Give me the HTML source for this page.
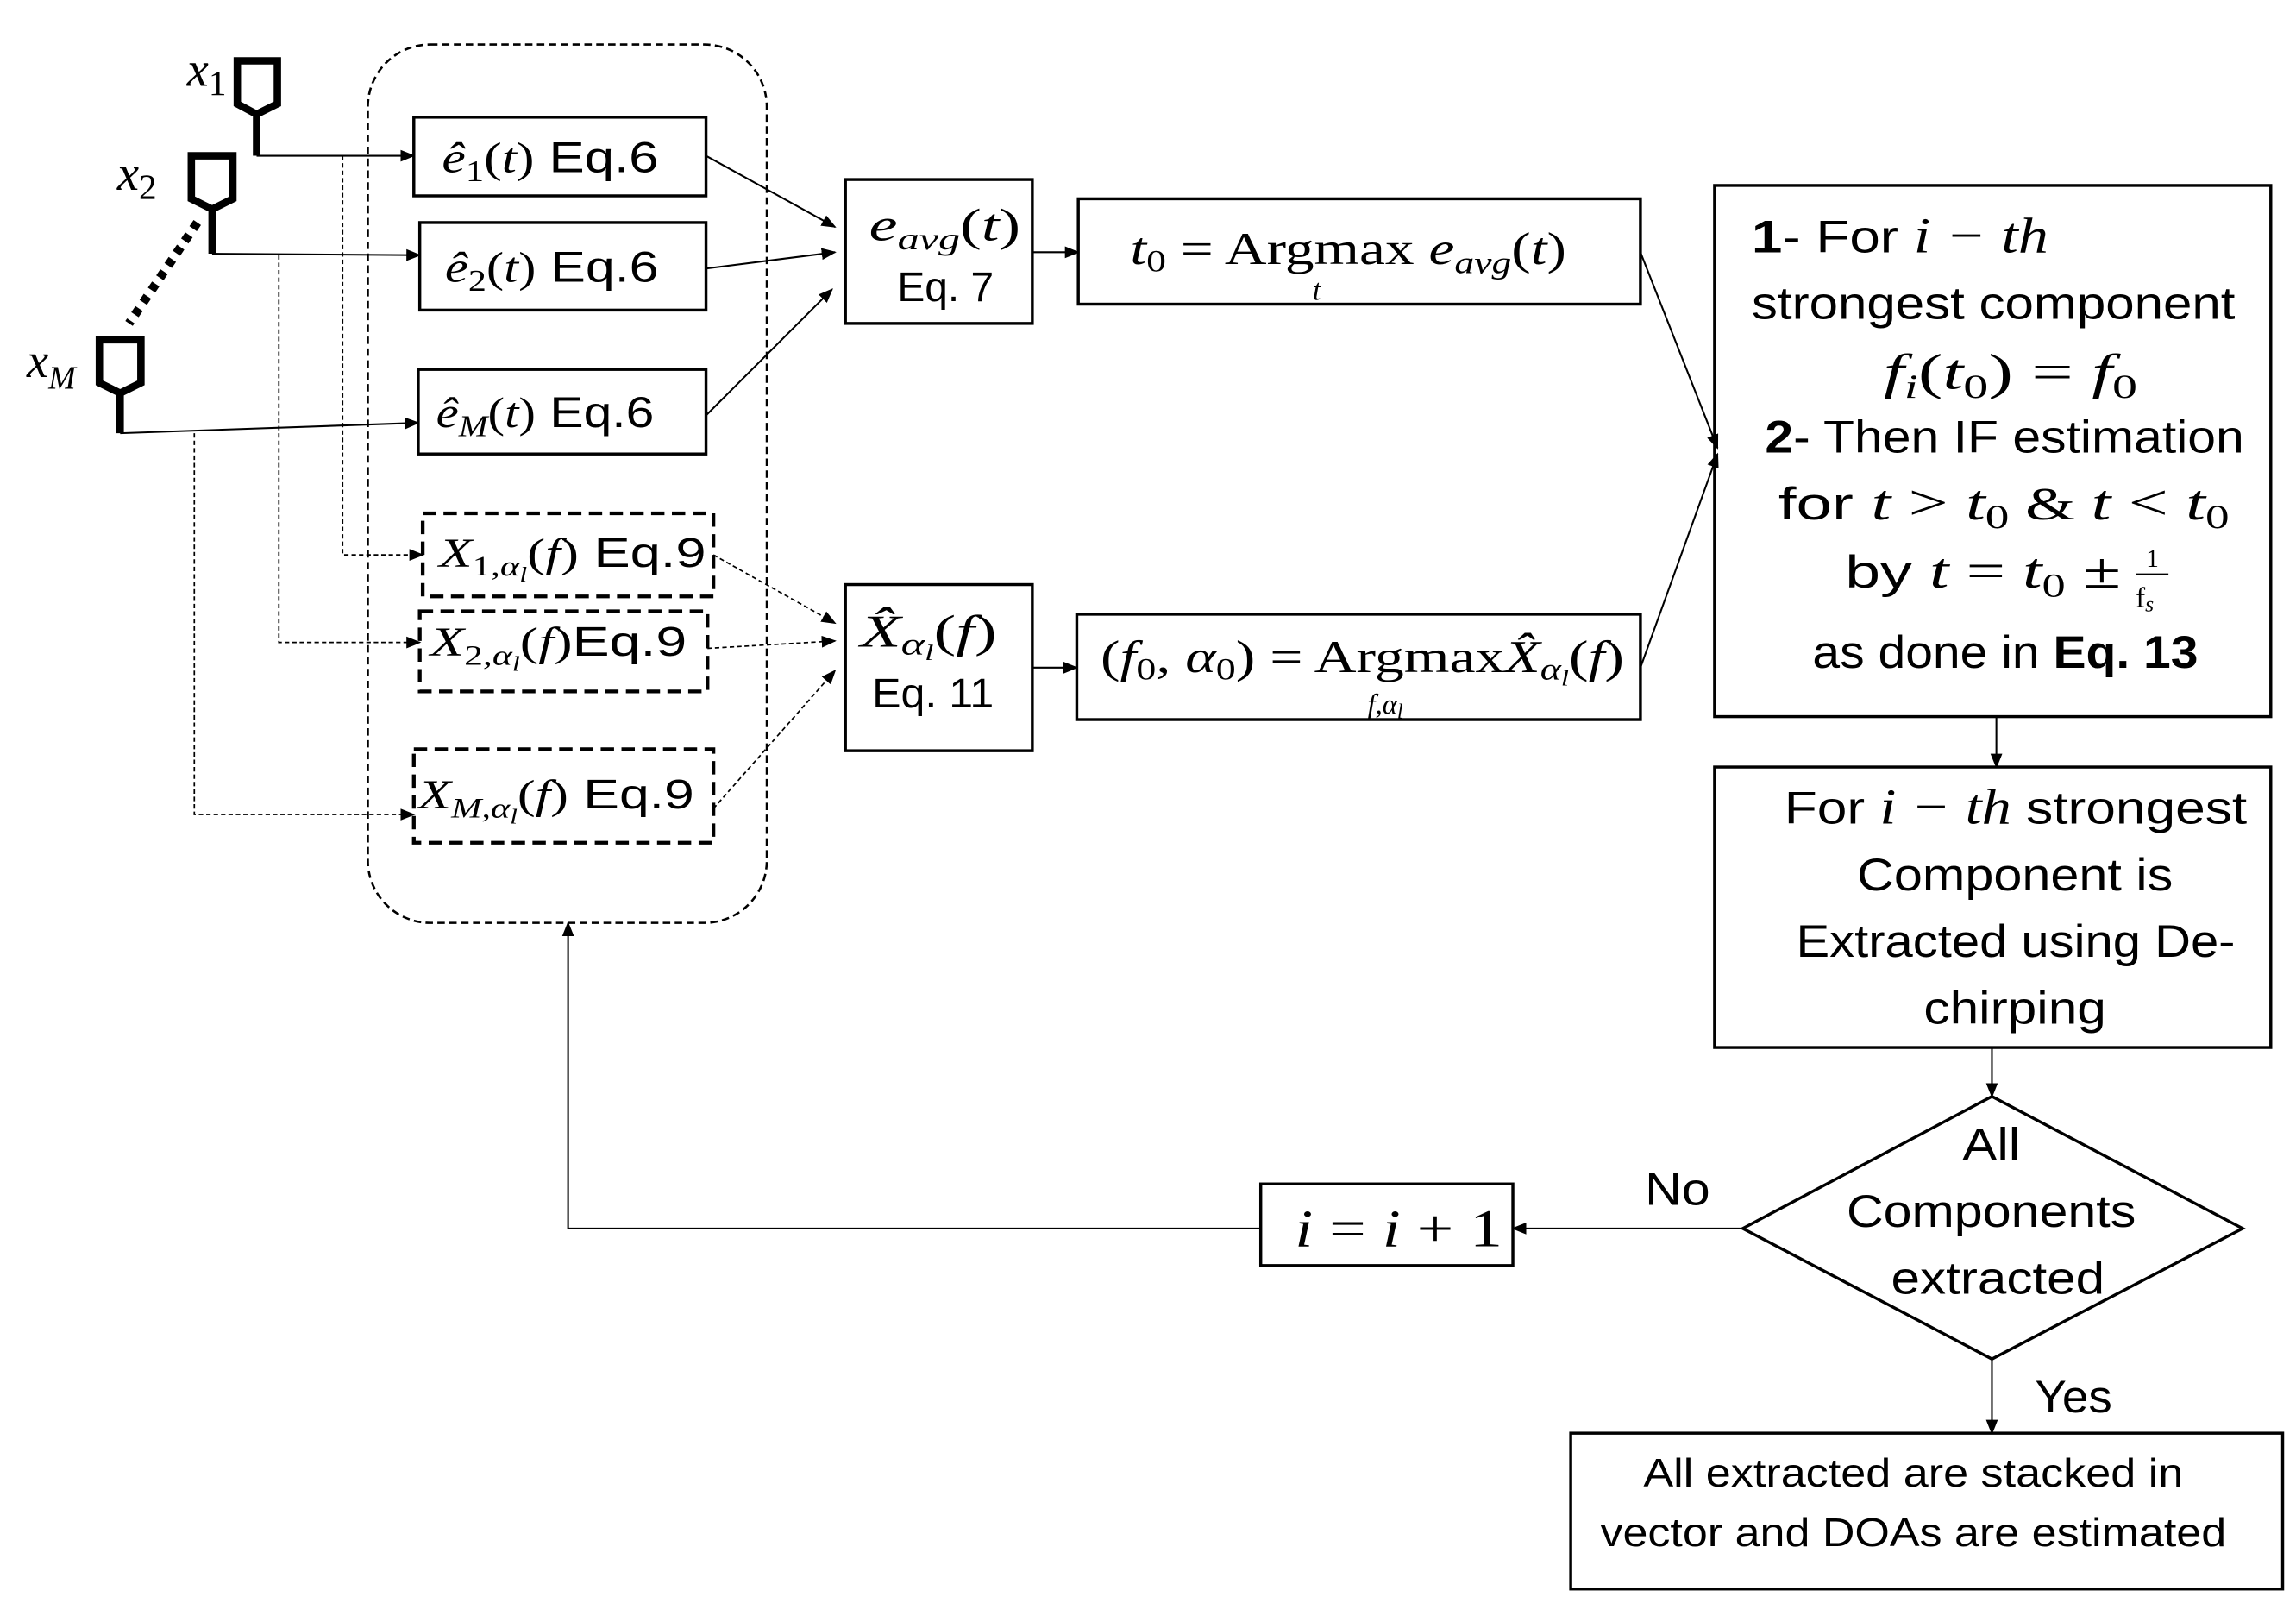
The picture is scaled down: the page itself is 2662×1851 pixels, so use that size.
<!DOCTYPE html>
<html><head><meta charset="utf-8"><style>
html,body{margin:0;padding:0;background:#fff;}
svg{display:block;}
text{font-family:"Liberation Sans",sans-serif;fill:#000;}
.m{font-family:"Liberation Serif",serif;font-style:italic;}
.r{font-family:"Liberation Serif",serif;}
</style></head><body>
<svg width="2662" height="1851" viewBox="0 0 1548 1076.4" preserveAspectRatio="none" xmlns="http://www.w3.org/2000/svg">
<defs>
<marker id="a" markerWidth="10" markerHeight="10" refX="9" refY="5" orient="auto" markerUnits="userSpaceOnUse"><path d="M0,1 L10,5 L0,9 z" fill="#000"/></marker>
</defs>
<g fill="none" stroke="#000">
<rect x="248" y="30" width="269" height="592" rx="42" stroke-width="1.5" stroke-dasharray="5,3"/>
<g stroke-width="2">
<rect x="279" y="79" width="197" height="53"/>
<rect x="283" y="150" width="193" height="59"/>
<rect x="282" y="249" width="194" height="57"/>
<rect x="570" y="121" width="126" height="97"/>
<rect x="570" y="394" width="126" height="112"/>
<rect x="727" y="134" width="379" height="71"/>
<rect x="726" y="414" width="380" height="71"/>
<rect x="1156" y="125" width="375" height="358"/>
<rect x="1156" y="517" width="375" height="189"/>
<rect x="850" y="798" width="170" height="55"/>
<rect x="1059" y="966" width="480" height="105"/>
<path d="M1175,828 L1343,739 L1512,828 L1343,916 Z"/>
</g>
<g stroke-width="2.5" stroke-dasharray="9,5">
<rect x="285" y="346" width="196" height="56"/>
<rect x="283" y="412" width="194" height="54"/>
<rect x="279" y="505" width="202" height="63"/>
</g>
<g stroke-width="5">
<path d="M160,41 L187,41 L187,70 L173,77 L160,70 Z"/>
<path d="M173,77 L173,105"/>
<path d="M129,105 L157,105 L157,134 L143,141 L129,134 Z"/>
<path d="M143,141 L143,171"/>
<path d="M67,229 L95,229 L95,258 L81,265 L67,258 Z"/>
<path d="M81,265 L81,292"/>
<path d="M133,150 L87,218" stroke-width="6" stroke-dasharray="5,5"/>
</g>
<g stroke-width="1.2" marker-end="url(#a)">
<path d="M173,105 L279,105"/>
<path d="M143,171 L283,172"/>
<path d="M81,292 L282,285"/>
<path d="M476,105 L563,153"/>
<path d="M476,181 L563,170"/>
<path d="M476,280 L561,195"/>
<path d="M696,170 L727,170"/>
<path d="M696,450 L726,450"/>
<path d="M1106,170 L1158,302"/>
<path d="M1106,450 L1158,306"/>
<path d="M1346,483 L1346,517"/>
<path d="M1343,706 L1343,739"/>
<path d="M1343,916 L1343,966"/>
<path d="M1175,828 L1020,828"/>
<path d="M850,828 L383,828 L383,622"/>
</g>
<g stroke-width="1" stroke-dasharray="3,2" marker-end="url(#a)">
<path d="M231,105 L231,374 L285,374"/>
<path d="M188,172 L188,433 L283,433"/>
<path d="M131,292 L131,549 L279,549"/>
<path d="M481,374 L563,420"/>
<path d="M477,437 L563,432"/>
<path d="M481,545 L563,452"/>
</g>
</g>
<text x="126" y="58" class="m" font-size="33">x<tspan font-size="24" dy="6" font-style="normal">1</tspan></text>
<text x="79" y="128" class="m" font-size="33">x<tspan font-size="24" dy="6" font-style="normal">2</tspan></text>
<text x="18" y="254" class="m" font-size="33">x<tspan font-size="22" dy="8">M</tspan></text>

<text x="298" y="116" font-size="29" textLength="146" lengthAdjust="spacingAndGlyphs"><tspan class="m">ê</tspan><tspan class="r" font-size="20" dy="6">1</tspan><tspan class="r" dy="-6">(</tspan><tspan class="m">t</tspan><tspan class="r">)</tspan>  Eq.6</text>
<text x="300" y="190" font-size="29" textLength="144" lengthAdjust="spacingAndGlyphs"><tspan class="m">ê</tspan><tspan class="r" font-size="20" dy="6">2</tspan><tspan class="r" dy="-6">(</tspan><tspan class="m">t</tspan><tspan class="r">)</tspan>  Eq.6</text>
<text x="294" y="288" font-size="29" textLength="147" lengthAdjust="spacingAndGlyphs"><tspan class="m">ê</tspan><tspan class="m" font-size="20" dy="6">M</tspan><tspan class="r" dy="-6">(</tspan><tspan class="m">t</tspan><tspan class="r">)</tspan> Eq.6</text>
<text x="296" y="382" font-size="28" textLength="180" lengthAdjust="spacingAndGlyphs"><tspan class="m">X</tspan><tspan class="r" font-size="19" dy="6">1,</tspan><tspan class="m" font-size="19">α</tspan><tspan class="m" font-size="14" dy="4">l</tspan><tspan class="r" dy="-10">(</tspan><tspan class="m">f</tspan><tspan class="r">)</tspan> Eq.9</text>
<text x="290" y="442" font-size="28" textLength="173" lengthAdjust="spacingAndGlyphs"><tspan class="m">X</tspan><tspan class="r" font-size="19" dy="6">2,</tspan><tspan class="m" font-size="19">α</tspan><tspan class="m" font-size="14" dy="4">l</tspan><tspan class="r" dy="-10">(</tspan><tspan class="m">f</tspan><tspan class="r">)</tspan>Eq.9</text>
<text x="282" y="545" font-size="28" textLength="186" lengthAdjust="spacingAndGlyphs"><tspan class="m">X</tspan><tspan class="m" font-size="19" dy="6">M,α</tspan><tspan class="m" font-size="14" dy="4">l</tspan><tspan class="r" dy="-10">(</tspan><tspan class="m">f</tspan><tspan class="r">)</tspan> Eq.9</text>

<text x="586" y="162" font-size="31" textLength="102" lengthAdjust="spacingAndGlyphs"><tspan class="m">e</tspan><tspan class="m" font-size="21" dy="6">avg</tspan><tspan class="r" dy="-6">(</tspan><tspan class="m">t</tspan><tspan class="r">)</tspan></text>
<text x="605" y="203" font-size="28" textLength="65" lengthAdjust="spacingAndGlyphs">Eq. 7</text>
<text x="580" y="436" font-size="31" textLength="92" lengthAdjust="spacingAndGlyphs"><tspan class="m">X̂</tspan><tspan class="m" font-size="21" dy="5">α</tspan><tspan class="m" font-size="15" dy="4">l</tspan><tspan class="r" dy="-9">(</tspan><tspan class="m">f</tspan><tspan class="r">)</tspan></text>
<text x="588" y="477" font-size="28" textLength="82" lengthAdjust="spacingAndGlyphs">Eq. 11</text>
<text x="762" y="178" font-size="31" textLength="294" lengthAdjust="spacingAndGlyphs"><tspan class="m">t</tspan><tspan class="r" font-size="21" dy="5">0</tspan><tspan class="r" dy="-5"> = Argmax </tspan><tspan class="m">e</tspan><tspan class="m" font-size="21" dy="6">avg</tspan><tspan class="r" dy="-6">(</tspan><tspan class="m">t</tspan><tspan class="r">)</tspan></text>
<text x="885" y="202" class="m" font-size="20">t</text>
<text x="742" y="453" font-size="31" textLength="353" lengthAdjust="spacingAndGlyphs"><tspan class="r">(</tspan><tspan class="m">f</tspan><tspan class="r" font-size="21" dy="5">0</tspan><tspan class="r" dy="-5">, </tspan><tspan class="m">α</tspan><tspan class="r" font-size="21" dy="5">0</tspan><tspan class="r" dy="-5">) = Argmax</tspan><tspan class="m">X̂</tspan><tspan class="m" font-size="21" dy="5">α</tspan><tspan class="m" font-size="15" dy="4">l</tspan><tspan class="r" dy="-9">(</tspan><tspan class="m">f</tspan><tspan class="r">)</tspan></text>
<text x="922" y="481" class="m" font-size="19">f,α<tspan font-size="14" dy="3">l</tspan></text>

<text x="1181" y="170" font-size="31" textLength="200" lengthAdjust="spacingAndGlyphs"><tspan font-weight="bold">1</tspan>-  For <tspan class="m" font-size="34">i − th</tspan></text>
<text x="1181" y="215" font-size="31" textLength="326" lengthAdjust="spacingAndGlyphs">strongest component</text>
<text x="1270" y="262" font-size="34" textLength="171" lengthAdjust="spacingAndGlyphs"><tspan class="m">f</tspan><tspan class="m" font-size="23" dy="6">i</tspan><tspan class="r" dy="-6">(</tspan><tspan class="m">t</tspan><tspan class="r" font-size="23" dy="6">0</tspan><tspan class="r" dy="-6">) = </tspan><tspan class="m">f</tspan><tspan class="r" font-size="23" dy="6">0</tspan></text>
<text x="1190" y="305" font-size="31" textLength="323" lengthAdjust="spacingAndGlyphs"><tspan font-weight="bold">2</tspan>- Then IF estimation</text>
<text x="1199" y="350" font-size="31" textLength="304" lengthAdjust="spacingAndGlyphs">for <tspan class="m" font-size="34">t</tspan><tspan class="r" font-size="34"> &gt; </tspan><tspan class="m" font-size="34">t</tspan><tspan class="r" font-size="23" dy="6">0</tspan><tspan class="r" dy="-6">  &amp;  </tspan><tspan class="m" font-size="34">t</tspan><tspan class="r" font-size="34"> &lt; </tspan><tspan class="m" font-size="34">t</tspan><tspan class="r" font-size="23" dy="6">0</tspan></text>
<text x="1244" y="396" font-size="31" textLength="186" lengthAdjust="spacingAndGlyphs">by  <tspan class="m" font-size="34">t</tspan><tspan class="r" font-size="34"> = </tspan><tspan class="m" font-size="34">t</tspan><tspan class="r" font-size="23" dy="6">0</tspan><tspan class="r" font-size="34" dy="-6"> ±</tspan></text>
<text x="1447" y="382" class="r" font-size="17">1</text>
<line x1="1440" y1="387" x2="1462" y2="387" stroke="#000" stroke-width="1"/>
<text x="1440" y="409" class="r" font-size="19">f<tspan class="m" font-size="15" dy="3">s</tspan></text>
<text x="1222" y="450" font-size="31" textLength="260" lengthAdjust="spacingAndGlyphs">as done in <tspan font-weight="bold">Eq. 13</tspan></text>

<text x="1203" y="555" font-size="31" textLength="312" lengthAdjust="spacingAndGlyphs">For <tspan class="m" font-size="34">i − th</tspan>  strongest</text>
<text x="1252" y="600" font-size="31" textLength="213" lengthAdjust="spacingAndGlyphs">Component is</text>
<text x="1211" y="645" font-size="31" textLength="296" lengthAdjust="spacingAndGlyphs">Extracted using De-</text>
<text x="1297" y="690" font-size="31" textLength="123" lengthAdjust="spacingAndGlyphs">chirping</text>

<text x="1323" y="782" font-size="31" textLength="39" lengthAdjust="spacingAndGlyphs">All</text>
<text x="1245" y="827" font-size="31" textLength="195" lengthAdjust="spacingAndGlyphs">Components</text>
<text x="1275" y="872" font-size="31" textLength="144" lengthAdjust="spacingAndGlyphs">extracted</text>
<text x="1109" y="812" font-size="31" textLength="44" lengthAdjust="spacingAndGlyphs">No</text>
<text x="1372" y="952" font-size="31" textLength="52" lengthAdjust="spacingAndGlyphs">Yes</text>
<text x="873" y="840" font-size="36" textLength="140" lengthAdjust="spacingAndGlyphs"><tspan class="m">i</tspan><tspan class="r"> = </tspan><tspan class="m">i</tspan><tspan class="r"> + 1</tspan></text>
<text x="1108" y="1002" font-size="27" textLength="364" lengthAdjust="spacingAndGlyphs">All extracted are stacked in</text>
<text x="1079" y="1042" font-size="27" textLength="422" lengthAdjust="spacingAndGlyphs">vector and DOAs are estimated</text>
</svg>
</body></html>
